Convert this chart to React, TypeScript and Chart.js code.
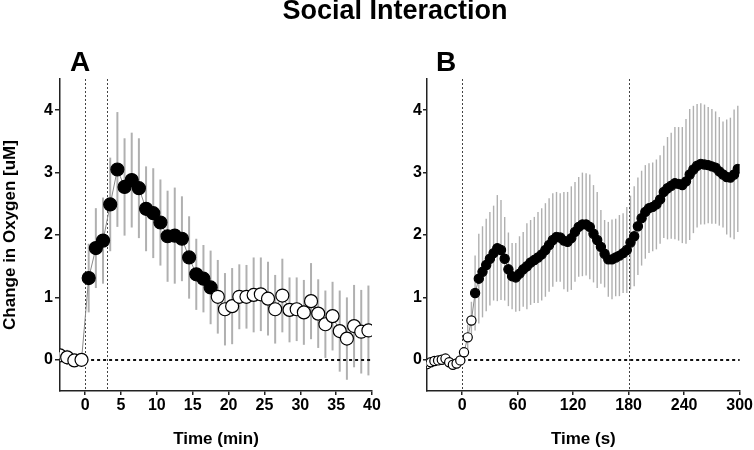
import React, { useEffect, useRef } from "react";
import { Chart, registerables } from "chart.js";
Chart.register(...registerables);

// ---------- Panel A (minutes) ----------
const aTime = [
  -3.5, -2.5, -1.5, -0.5, 0.5, 1.5, 2.5, 3.5, 4.5, 5.5, 6.5, 7.5, 8.5, 9.5, 10.5,
  11.5, 12.5, 13.5, 14.5, 15.5, 16.5, 17.5, 18.5, 19.5, 20.5, 21.5, 22.5, 23.5,
  24.5, 25.5, 26.5, 27.5, 28.5, 29.5, 30.5, 31.5, 32.5, 33.5, 34.5, 35.5, 36.5,
  37.5, 38.5, 39.5,
];
const aMean = [
  0.07, 0.04, -0.01, 0.0, 1.31, 1.79, 1.91, 2.49, 3.05, 2.77, 2.88, 2.75, 2.42,
  2.35, 2.2, 1.98, 1.99, 1.94, 1.64, 1.37, 1.3, 1.16, 1.01, 0.81, 0.86, 1.01,
  1.01, 1.04, 1.05, 0.98, 0.81, 1.03, 0.8, 0.81, 0.76, 0.94, 0.74, 0.57, 0.7,
  0.46, 0.34, 0.54, 0.45, 0.47,
];
const aSem = [
  0.05, 0.12, 0.08, 0.05, 0.55, 0.64, 0.69, 0.75, 0.92, 0.78, 0.76, 0.8, 0.68,
  0.72, 0.69, 0.73, 0.77, 0.68, 0.66, 0.57, 0.54, 0.59, 0.59, 0.58, 0.61, 0.52,
  0.51, 0.6, 0.59, 0.59, 0.55, 0.59, 0.52, 0.51, 0.52, 0.61, 0.55, 0.54, 0.55,
  0.65, 0.66, 0.66, 0.67, 0.72,
];
const aFilledRange = [0, 18];
const aMarkers = [0, 3];
const aXTicks = [0, 5, 10, 15, 20, 25, 30, 35, 40];
const aXRange = [-3.5, 40];

// ---------- Panel B (seconds) ----------
const bTime = [
  -38, -34, -30, -26, -22, -18, -14, -10, -6, -2, 2, 6, 10, 14, 18, 22, 26, 30,
  34, 38, 42, 46, 50, 54, 58, 62, 66, 70, 74, 78, 82, 86, 90, 94, 98, 102, 106,
  110, 114, 118, 122, 126, 130, 134, 138, 142, 146, 150, 154, 158, 162, 166, 170,
  174, 178, 182, 186, 190, 194, 198, 202, 206, 210, 214, 218, 222, 226, 230, 234,
  238, 242, 246, 250, 254, 258, 262, 266, 270, 274, 278, 282, 286, 290, 294, 298,
];
const bMean = [
  -0.07, -0.04, -0.02, -0.01, 0.0, 0.02, -0.04, -0.08, -0.06, -0.01,
  0.12, 0.36, 0.63, 1.07, 1.3, 1.41, 1.52, 1.62, 1.71, 1.79,
  1.76, 1.62, 1.45, 1.34, 1.32, 1.38, 1.45, 1.5, 1.56, 1.6,
  1.64, 1.69, 1.76, 1.84, 1.92, 1.97, 1.96, 1.91, 1.89, 1.95,
  2.05, 2.13, 2.17, 2.17, 2.13, 2.02, 1.92, 1.81, 1.7, 1.61,
  1.61, 1.64, 1.67, 1.71, 1.76, 1.88, 1.98, 2.14, 2.27, 2.37,
  2.43, 2.45, 2.49, 2.57, 2.69, 2.75, 2.79, 2.83, 2.82, 2.8,
  2.86, 2.97, 3.05, 3.11, 3.14, 3.13, 3.12, 3.1, 3.08, 3.02,
  2.97, 2.93, 2.92, 2.97, 3.06,
];
const bSem = [
  0.03, 0.03, 0.03, 0.03, 0.03, 0.04, 0.04, 0.04, 0.04, 0.04,
  0.08, 0.2, 0.3, 0.6, 0.72, 0.73, 0.74, 0.75, 0.76, 0.85,
  0.8, 0.67, 0.59, 0.53, 0.55, 0.6, 0.6, 0.69, 0.68, 0.69,
  0.73, 0.74, 0.75, 0.75, 0.75, 0.72, 0.71, 0.78, 0.8, 0.83,
  0.8, 0.8, 0.83, 0.82, 0.84, 0.78, 0.77, 0.59, 0.54, 0.6,
  0.64, 0.62, 0.65, 0.64, 0.69, 0.75, 0.8, 0.78, 0.76, 0.75,
  0.72, 0.71, 0.72, 0.71, 0.74, 0.82, 0.85, 0.9, 0.91, 0.93,
  1.0, 1.05, 1.02, 0.99, 0.97, 0.96, 0.93, 0.92, 0.9, 0.87,
  0.85, 0.92, 0.96, 1.04, 1.01,
];
const bFilledRange = [12, 300];
const bMarkers = [0, 180];
const bXTicks = [0, 60, 120, 180, 240, 300];
const bXRange = [-38, 300];

// ---------- shared ----------
const yTicks = [0, 1, 2, 3, 4];
const yRange = [-0.5, 4.5];
const chartTitle = "Social Interaction";
const yTitle = "Change in Oxygen [uM]";
const aXTitle = "Time (min)";
const bXTitle = "Time (s)";

const FONT = "'Liberation Sans', Arial, Helvetica, sans-serif";

type PanelCfg = {
  time: number[];
  mean: number[];
  sem: number[];
  filled: number[];
  markers: number[];
  xTicks: number[];
  xRange: number[];
  xTitle: string;
  showYTitle: boolean;
  yAxisWidth: number;
  padRight: number;
  radius: number;
  barWidth: number;
  yTickLen: number;
  yTickPad: number;
};

function makeOverlay(cfg: PanelCfg) {
  return {
    id: "overlay",
    beforeDatasetsDraw(chart: any) {
      const { ctx, chartArea } = chart;
      const x = chart.scales.x;
      const y = chart.scales.y;
      ctx.save();
      // error bars
      ctx.strokeStyle = "#b0b0b0";
      ctx.lineWidth = cfg.barWidth;
      ctx.setLineDash([]);
      cfg.time.forEach((t, i) => {
        const px = x.getPixelForValue(t);
        ctx.beginPath();
        ctx.moveTo(px, y.getPixelForValue(cfg.mean[i] - cfg.sem[i]));
        ctx.lineTo(px, y.getPixelForValue(cfg.mean[i] + cfg.sem[i]));
        ctx.stroke();
      });
      // zero dotted line
      ctx.strokeStyle = "#111";
      ctx.lineWidth = 2;
      ctx.setLineDash([3, 3]);
      const py = Math.round(y.getPixelForValue(0));
      ctx.beginPath();
      ctx.moveTo(x.getPixelForValue(0), py);
      ctx.lineTo(chartArea.right, py);
      ctx.stroke();
      // vertical dashed markers
      ctx.strokeStyle = "#444";
      ctx.lineWidth = 1;
      ctx.setLineDash([2, 2]);
      cfg.markers.forEach((m) => {
        const px = Math.round(x.getPixelForValue(m)) + 0.5;
        ctx.beginPath();
        ctx.moveTo(px, chartArea.top);
        ctx.lineTo(px, chartArea.bottom);
        ctx.stroke();
      });
      ctx.restore();
    },
  };
}

function Panel({ cfg, left, width }: { cfg: PanelCfg; left: number; width: number }) {
  const ref = useRef<HTMLCanvasElement>(null);
  useEffect(() => {
    const canvas = ref.current!;
    const tickFont = { family: FONT, size: 16, weight: "bold" as const };
    const titleFont = { family: FONT, size: 17, weight: "bold" as const };
    const chart = new Chart(canvas, {
      type: "line",
      data: {
        datasets: [
          {
            data: cfg.time.map((t, i) => ({ x: t, y: cfg.mean[i] })),
            borderColor: "#8a8a8a",
            borderWidth: 1,
            pointRadius: cfg.radius,
            pointBorderColor: "#000",
            pointBorderWidth: 1.2,
            pointBackgroundColor: cfg.time.map((t) =>
              t > cfg.filled[0] && t < cfg.filled[1] ? "#000" : "#fff"
            ),
            tension: 0,
            fill: false,
          },
        ],
      },
      options: {
        animation: false,
        responsive: false,
        maintainAspectRatio: false,
        layout: { padding: { top: 79, left: 0, right: cfg.padRight, bottom: 0 } },
        plugins: { legend: { display: false }, tooltip: { enabled: false } },
        scales: {
          x: {
            type: "linear",
            min: cfg.xRange[0],
            max: cfg.xRange[1],
            afterBuildTicks: (s: any) => {
              s.ticks = cfg.xTicks.map((v) => ({ value: v }));
            },
            afterFit: (s: any) => {
              s.height = 59;
            },
            grid: {
              drawOnChartArea: false,
              drawTicks: true,
              tickLength: 4,
              color: "#222",
              lineWidth: 1.5,
            },
            border: { display: true, color: "#222", width: 1.5 },
            ticks: { font: tickFont, color: "#000", padding: 1, maxRotation: 0 },
            title: {
              display: true,
              text: cfg.xTitle,
              font: titleFont,
              color: "#000",
              padding: { top: 0, bottom: 0 },
            },
          },
          y: {
            type: "linear",
            min: yRange[0],
            max: yRange[1],
            afterBuildTicks: (s: any) => {
              s.ticks = yTicks.map((v) => ({ value: v }));
            },
            afterFit: (s: any) => {
              s.width = cfg.yAxisWidth;
            },
            grid: {
              drawOnChartArea: false,
              drawTicks: true,
              tickLength: cfg.yTickLen,
              color: "#222",
              lineWidth: 1.5,
            },
            border: { display: true, color: "#222", width: 1.5 },
            ticks: { font: tickFont, color: "#000", padding: cfg.yTickPad },
            title: {
              display: cfg.showYTitle,
              text: yTitle,
              font: titleFont,
              color: "#000",
              padding: { top: 0, bottom: 0 },
            },
          },
        },
      },
      plugins: [makeOverlay(cfg)],
    } as any);
    return () => chart.destroy();
  }, [cfg]);
  return (
    <canvas
      ref={ref}
      width={width}
      height={450}
      style={{ position: "absolute", left, top: 0, width, height: 450 }}
    />
  );
}

const cfgA: PanelCfg = {
  time: aTime,
  mean: aMean,
  sem: aSem,
  filled: aFilledRange,
  markers: aMarkers,
  xTicks: aXTicks,
  xRange: aXRange,
  xTitle: aXTitle,
  showYTitle: true,
  yAxisWidth: 60,
  padRight: 13,
  radius: 6.5,
  barWidth: 2,
  yTickLen: 5,
  yTickPad: 2,
};

const cfgB: PanelCfg = {
  time: bTime,
  mean: bMean,
  sem: bSem,
  filled: bFilledRange,
  markers: bMarkers,
  xTicks: bXTicks,
  xRange: bXRange,
  xTitle: bXTitle,
  showYTitle: false,
  yAxisWidth: 50,
  padRight: 14,
  radius: 4.6,
  barWidth: 1.4,
  yTickLen: 4,
  yTickPad: 1,
};

export default function App() {
  return (
    <div
      style={{
        position: "fixed",
        left: 0,
        top: 0,
        width: 754,
        height: 450,
        background: "#fff",
        overflow: "hidden",
        fontFamily: FONT,
      }}
    >
      <Panel cfg={cfgA} left={0} width={385} />
      <Panel cfg={cfgB} left={377} width={377} />
      <div
        style={{
          position: "absolute",
          left: 18,
          width: 754,
          top: -3,
          textAlign: "center",
          fontSize: 27,
          lineHeight: "27px",
          fontWeight: "bold",
          color: "#000",
        }}
      >
        {chartTitle}
      </div>
      <div
        style={{
          position: "absolute",
          left: 70,
          top: 48,
          fontSize: 28,
          lineHeight: "28px",
          fontWeight: "bold",
          color: "#000",
        }}
      >
        A
      </div>
      <div
        style={{
          position: "absolute",
          left: 436,
          top: 48,
          fontSize: 28,
          lineHeight: "28px",
          fontWeight: "bold",
          color: "#000",
        }}
      >
        B
      </div>
    </div>
  );
}
